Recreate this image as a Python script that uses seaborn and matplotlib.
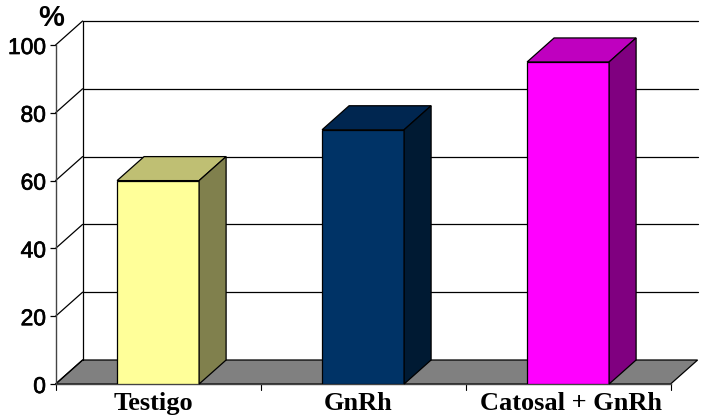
import matplotlib
matplotlib.use("Agg")
import matplotlib.pyplot as plt
import matplotlib.patheffects as pe
from matplotlib.transforms import ScaledTranslation
import seaborn as sns
import pandas as pd
from matplotlib.patches import Polygon

categories = ["Testigo", "GnRh", "Catosal + GnRh"]
values = [60, 75, 95]
front_colors = ["#FFFF99", "#003366", "#FF00FF"]
top_colors = ["#BFBF73", "#002650", "#BF00BF"]
side_colors = ["#80804D", "#001A33", "#800080"]
y_ticks = [0, 20, 40, 60, 80, 100]
label_shift_px = [-5, -5, 3]

W, H = 702, 418
L, R, B, T = 55.6, 670.6, 384, 45
DXP, DYP = 27, 24

sns.set_theme(style="white")
plt.rcParams["font.family"] = ["Liberation Sans", "DejaVu Sans"]

fig = plt.figure(figsize=(W / 100, H / 100), dpi=100)
ax = fig.add_axes([L / W, 1 - B / H, (R - L) / W, (B - T) / H])

df = pd.DataFrame({"cat": categories, "val": values})
sns.barplot(data=df, x="cat", y="val", hue="cat", palette=front_colors, legend=False,
            width=0.4, saturation=1, edgecolor="black", linewidth=0.9, ax=ax, zorder=5)
ax.set_xlim(-0.5, 2.5)
ax.set_ylim(0, 100)

dx = DXP / (R - L) * 3
dy = DYP / (B - T) * 100
line = dict(color="black", lw=0.9, clip_on=False)

# floor and walls
ax.add_patch(Polygon([(-0.5, 0), (2.5, 0), (2.5 + dx, dy), (-0.5 + dx, dy)], closed=True,
                     facecolor="#808080", edgecolor="black", lw=0.9, clip_on=False, zorder=1))
for t in y_ticks:
    ax.plot([-0.5, -0.5 + dx], [t, t + dy], zorder=2, **line)
    if t > 0:
        ax.plot([-0.5 + dx, 2.5 + dx], [t + dy, t + dy], zorder=2, **line)
ax.plot([-0.5 + dx, -0.5 + dx], [dy, 100 + dy], zorder=2, **line)

# depth faces of the bars
for i, bar in enumerate(ax.patches[:len(values)]):
    x0, x1 = bar.get_x(), bar.get_x() + bar.get_width()
    v = bar.get_height()
    ax.add_patch(Polygon([(x0, v), (x1, v), (x1 + dx, v + dy), (x0 + dx, v + dy)], closed=True,
                         facecolor=top_colors[i], edgecolor="black", lw=0.9, clip_on=False, zorder=6))
    ax.add_patch(Polygon([(x1, 0), (x1, v), (x1 + dx, v + dy), (x1 + dx, dy)], closed=True,
                         facecolor=side_colors[i], edgecolor="black", lw=0.9, clip_on=False, zorder=6))

for s in ["top", "right"]:
    ax.spines[s].set_visible(False)
for s in ["left", "bottom"]:
    ax.spines[s].set_color("#444444")
    ax.spines[s].set_linewidth(1.0)
    ax.spines[s].set_zorder(3)

ax.set_xlabel("")
ax.set_ylabel("")
ax.set_yticks(y_ticks)
ax.set_yticklabels([str(t) for t in y_ticks], fontsize=16.4, color="black")
ax.set_xticks([0, 1, 2])
ax.set_xticklabels(categories, fontsize=19, fontweight="bold", color="black",
                   family=["Liberation Serif", "DejaVu Serif"])
ax.tick_params(axis="y", length=4, width=0.9, pad=3, color="black", left=True)
ax.tick_params(axis="x", length=0, pad=6, bottom=False)
for lab in ax.get_yticklabels():
    lab.set_path_effects([pe.withStroke(linewidth=0.5, foreground="black")])
for lab, s in zip(ax.get_xticklabels(), label_shift_px):
    lab.set_transform(lab.get_transform() + ScaledTranslation(s / 100, 0, fig.dpi_scale_trans))
for x in [-0.5, 0.5, 1.5, 2.5]:
    ax.plot([x, x], [0, -6 / (B - T) * 100], color="black", lw=0.8, clip_on=False)
ax.set_xlim(-0.5, 2.5)
ax.set_ylim(0, 100)

fig.text(51 / W, 1 - 18 / H, "%", fontsize=21, fontweight="bold", ha="center", va="center",
         color="black")
fig.savefig("out.png", dpi=100, facecolor="white")
